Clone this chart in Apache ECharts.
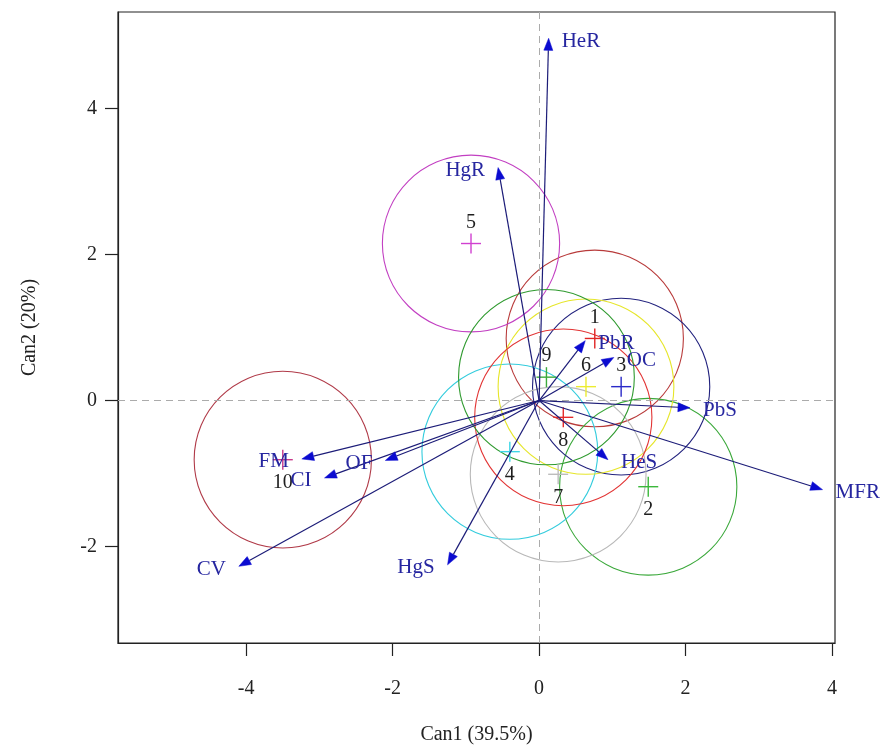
<!DOCTYPE html>
<html><head><meta charset="utf-8">
<script src="https://cdn.jsdelivr.net/npm/echarts@6/dist/echarts.min.js"></script>
<style>html,body{margin:0;padding:0;background:#fff}#c{width:887px;height:756px}</style>
</head><body><div id="c"></div>
<script>
// ---- data ----
const xTicks = [-4, -2, 0, 2, 4];
const yTicks = [-2, 0, 2, 4];
const xTitle = 'Can1 (39.5%)';
const yTitle = 'Can2 (20%)';

const groupNames = ['1', '2', '3', '4', '5', '6', '7', '8', '9', '10'];
const groupX = [0.76, 1.49, 1.12, -0.40, -0.93, 0.64, 0.26, 0.33, 0.10, -3.50];
const groupY = [0.85, -1.18, 0.19, -0.70, 2.15, 0.19, -1.01, -0.23, 0.32, -0.81];
const groupRadius = [1.21, 1.21, 1.21, 1.20, 1.21, 1.20, 1.20, 1.21, 1.20, 1.21];

const varNames = ['HeR', 'HgR', 'PbR', 'OC', 'PbS', 'MFR', 'HeS', 'HgS', 'CV', 'FM', 'CI', 'OF'];
const varX = [0.13, -0.56, 0.63, 1.02, 2.06, 3.87, 0.94, -1.25, -4.10, -3.24, -2.93, -2.10];
const varY = [4.96, 3.19, 0.82, 0.59, -0.10, -1.22, -0.81, -2.25, -2.27, -0.80, -1.06, -0.82];

// ---- styles ----
const circleColors = ['#b83a3a', '#3aa83a', '#22227e', '#33ccdd', '#c23fc2', '#e6e62a', '#b8b8b8', '#e23434', '#2f9a2f', '#b03a48'];
const crossColors = ['#e02424', '#3cb83c', '#2a2ac8', '#3cd6e6', '#d040d0', '#ecec30', '#bdbdbd', '#e42a2a', '#3caa3c', '#c8388a'];
const SERIF = '"Liberation Serif", "Times New Roman", serif';

const chart = echarts.init(document.getElementById('c'), null, { renderer: 'canvas' });

const option = {
  backgroundColor: '#fff',
  animation: false,
  grid: { left: 118, right: 52, top: 12, bottom: 113, show: true, borderColor: '#222', borderWidth: 1.2, backgroundColor: 'transparent' },
  xAxis: {
    type: 'value', min: -5.75, max: 4.04,
    name: xTitle, nameLocation: 'middle', nameGap: 82,
    nameTextStyle: { fontFamily: SERIF, fontSize: 20, color: '#222' },
    axisLine: { show: true, onZero: false, lineStyle: { color: '#222', width: 1.2 } },
    axisTick: { show: true, inside: false, length: 13, customValues: xTicks, lineStyle: { color: '#222', width: 1.2 } },
    axisLabel: { show: true, margin: 36, customValues: xTicks, fontFamily: SERIF, fontSize: 20, color: '#222' },
    splitLine: { show: false }
  },
  yAxis: {
    type: 'value', min: -3.32, max: 5.32,
    name: yTitle, nameLocation: 'middle', nameGap: 78, nameRotate: 90,
    nameTextStyle: { fontFamily: SERIF, fontSize: 20, color: '#222' },
    axisLine: { show: true, onZero: false, lineStyle: { color: '#222', width: 1.2 } },
    axisTick: { show: true, inside: false, length: 13, customValues: yTicks, lineStyle: { color: '#222', width: 1.2 } },
    axisLabel: { show: true, margin: 21, customValues: yTicks, fontFamily: SERIF, fontSize: 20, color: '#222' },
    splitLine: { show: false }
  },
  series: [
    {
      // reference lines
      type: 'line', data: [], silent: true,
      markLine: {
        silent: true, symbol: 'none', label: { show: false },
        lineStyle: { color: '#ababab', type: [7, 5], width: 1 },
        data: [{ xAxis: 0 }, { yAxis: 0 }]
      }
    },
    {
      // circles
      type: 'custom', silent: true, z: 3,
      encode: { x: 0, y: 1 },
      data: groupX.map((x, i) => [x, groupY[i], groupRadius[i]]),
      renderItem: (params, api) => {
        const i = params.dataIndex;
        const c = api.coord([api.value(0), api.value(1)]);
        const s = api.size([api.value(2), api.value(2)]);
        return {
          type: 'ellipse',
          shape: { cx: c[0], cy: c[1], rx: s[0], ry: s[1] },
          style: { fill: 'none', stroke: circleColors[i], lineWidth: 1.1 }
        };
      }
    },
    {
      // crosses + group labels
      type: 'custom', silent: true, z: 4,
      encode: { x: 0, y: 1 },
      data: groupX.map((x, i) => [x, groupY[i]]),
      renderItem: (params, api) => {
        const i = params.dataIndex;
        const c = api.coord([api.value(0), api.value(1)]);
        const above = api.value(1) > 0;
        const st = { stroke: crossColors[i], lineWidth: 1.4 };
        return {
          type: 'group',
          children: [
            { type: 'line', shape: { x1: c[0] - 10, y1: c[1], x2: c[0] + 10, y2: c[1] }, style: st },
            { type: 'line', shape: { x1: c[0], y1: c[1] - 10, x2: c[0], y2: c[1] + 10 }, style: st },
            {
              type: 'text', x: c[0], y: c[1] + (above ? -21 : 23),
              style: { text: groupNames[i], fill: '#1e1e1e', font: '20px ' + SERIF, align: 'center', verticalAlign: 'middle' }
            }
          ]
        };
      }
    },
    {
      // arrows + variable labels
      type: 'custom', silent: true, z: 5, clip: false,
      encode: { x: 0, y: 1 },
      data: varX.map((x, i) => [x, varY[i]]),
      renderItem: (params, api) => {
        const i = params.dataIndex;
        const o = api.coord([0, 0]);
        const p = api.coord([api.value(0), api.value(1)]);
        const dx = p[0] - o[0], dy = p[1] - o[1];
        const L = Math.hypot(dx, dy);
        const ux = dx / L, uy = dy / L;
        const hl = 12, hw = 4.5;
        const b = [p[0] - ux * hl, p[1] - uy * hl];
        const l = [b[0] - uy * hw, b[1] + ux * hw];
        const r = [b[0] + uy * hw, b[1] - ux * hw];
        const right = api.value(0) >= 0;
        return {
          type: 'group',
          children: [
            { type: 'line', shape: { x1: o[0], y1: o[1], x2: b[0], y2: b[1] }, style: { stroke: '#1c1c78', lineWidth: 1.2 } },
            { type: 'polygon', shape: { points: [p, l, r] }, style: { fill: '#0b0bd0', stroke: '#0b0bd0', lineWidth: 0.5 } },
            {
              type: 'text', x: p[0] + (right ? 13 : -13), y: p[1] + 3,
              style: { text: varNames[i], fill: '#2626a0', font: '21px ' + SERIF, align: right ? 'left' : 'right', verticalAlign: 'middle' }
            }
          ]
        };
      }
    }
  ]
};
chart.setOption(option);
</script>
</body></html>
